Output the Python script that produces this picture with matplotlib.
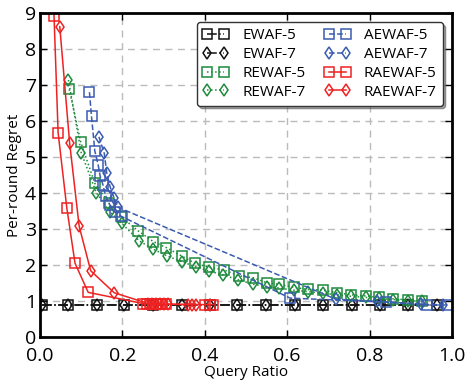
import numpy as np
import matplotlib
matplotlib.use("Agg")
import matplotlib.pyplot as plt

plt.rcParams["font.family"] = ["Open Sans", "DejaVu Sans"]

# EWAF (static query ratio), both window sizes sit on the same points
ewaf_x = [0.005, 0.068, 0.138, 0.204, 0.274, 0.345, 0.413, 0.478, 0.549,
          0.619, 0.687, 0.757, 0.825, 0.893, 0.964]
ewaf5_y = [0.90] * 15
ewaf7_y = [0.90] * 15

rewaf5_x = [0.071, 0.099, 0.133, 0.168, 0.199, 0.238, 0.275, 0.307, 0.344,
            0.376, 0.409, 0.447, 0.483, 0.516, 0.550, 0.581, 0.617, 0.650,
            0.686, 0.722, 0.755, 0.791, 0.824, 0.858, 0.894, 0.926]
rewaf5_y = [6.88, 5.41, 4.27, 3.71, 3.32, 2.95, 2.65, 2.48, 2.25, 2.05, 1.94,
            1.86, 1.70, 1.65, 1.51, 1.46, 1.38, 1.32, 1.30, 1.23, 1.17, 1.14,
            1.10, 1.06, 1.03, 1.01]

rewaf7_x = [0.069, 0.100, 0.137, 0.170, 0.198, 0.241, 0.275, 0.309, 0.345,
            0.378, 0.411, 0.445, 0.481, 0.516, 0.550, 0.581, 0.617, 0.650,
            0.686, 0.722, 0.755, 0.791, 0.824, 0.858, 0.894, 0.926]
rewaf7_y = [7.14, 5.12, 4.00, 3.48, 3.16, 2.67, 2.44, 2.25, 2.09, 1.95, 1.83,
            1.72, 1.59, 1.47, 1.40, 1.36, 1.30, 1.26, 1.22, 1.17, 1.13, 1.10,
            1.07, 1.04, 1.01, 0.99]

aewaf5_x = [0.120, 0.125, 0.133, 0.141, 0.146, 0.153, 0.159, 0.169, 0.181,
            0.196, 0.607, 0.840, 0.940, 0.990]
aewaf5_y = [6.80, 6.13, 5.17, 4.79, 4.47, 4.22, 3.93, 3.68, 3.48, 3.36,
            1.08, 0.97, 0.89, 0.89]

aewaf7_x = [0.143, 0.156, 0.162, 0.170, 0.180, 0.190, 0.718, 0.817, 0.925,
            0.978]
aewaf7_y = [5.56, 5.10, 4.55, 4.18, 3.85, 3.60, 1.05, 0.99, 0.92, 0.89]

raewaf5_x = [0.034, 0.044, 0.065, 0.085, 0.117, 0.250, 0.260, 0.267, 0.274,
             0.282, 0.289, 0.296, 0.306, 0.400, 0.413, 0.420]
raewaf5_y = [8.93, 5.67, 3.59, 2.05, 1.24, 0.93, 0.92, 0.92, 0.92, 0.91,
             0.91, 0.91, 0.91, 0.90, 0.90, 0.90]

raewaf7_x = [0.048, 0.072, 0.095, 0.123, 0.180, 0.262, 0.272, 0.282, 0.291,
             0.301, 0.311, 0.359, 0.369, 0.379]
raewaf7_y = [8.62, 5.38, 3.08, 1.84, 1.23, 0.93, 0.92, 0.92, 0.92, 0.91,
             0.91, 0.90, 0.90, 0.90]

black = "#111111"
green = "#1d8a3c"
blue = "#3a5bb0"
red = "#ee2222"

series = [
    ("EWAF-5", ewaf_x, ewaf5_y, black, "s", "-."),
    ("EWAF-7", ewaf_x, ewaf7_y, black, "d", "-."),
    ("REWAF-5", rewaf5_x, rewaf5_y, green, "s", ":"),
    ("REWAF-7", rewaf7_x, rewaf7_y, green, "d", ":"),
    ("AEWAF-5", aewaf5_x, aewaf5_y, blue, "s", "--"),
    ("AEWAF-7", aewaf7_x, aewaf7_y, blue, "d", "--"),
    ("RAEWAF-5", raewaf5_x, raewaf5_y, red, "s", "-"),
    ("RAEWAF-7", raewaf7_x, raewaf7_y, red, "d", "-"),
]

fig = plt.figure(figsize=(4.67, 3.84), dpi=100)
ax = fig.add_axes([40 / 467, 47 / 384, 412 / 467, 324 / 384])

for label, xs, ys, color, marker, ls in series:
    ax.plot(xs, ys, linestyle=ls, color=color, marker=marker, markersize=6.5,
            markerfacecolor="none", markeredgecolor=color, markeredgewidth=1.1,
            linewidth=1.1, label=label)

ax.set_xlim(0, 1)
ax.set_ylim(0, 9)
ax.set_xticks(np.arange(0, 1.01, 0.2))
ax.set_yticks(np.arange(0, 10, 1))
ax.set_xticklabels([f"{v:.1f}" for v in np.arange(0, 1.01, 0.2)])
ax.grid(True, color="#bbbbbb", linestyle=(0, (5, 4)), linewidth=1)
ax.set_axisbelow(True)
ax.tick_params(direction="in", top=True, right=True, labelsize=14, length=5,
               width=1, pad=3)
ax.tick_params(axis="x", pad=7)
for sp in ax.spines.values():
    sp.set_linewidth(2)
ax.set_xlabel("Query Ratio", fontsize=11, labelpad=0)
ax.set_ylabel("Per-round Regret", fontsize=11, labelpad=2)

leg = ax.legend(ncol=2, loc="upper right", fontsize=11, fancybox=True,
                shadow=True, numpoints=2, handlelength=1.7,
                columnspacing=1.2, handletextpad=0.9, labelspacing=0.25,
                borderaxespad=0.6, borderpad=0.4, framealpha=1)
leg.get_frame().set_edgecolor("#333333")

fig.savefig("out.png", dpi=100)
